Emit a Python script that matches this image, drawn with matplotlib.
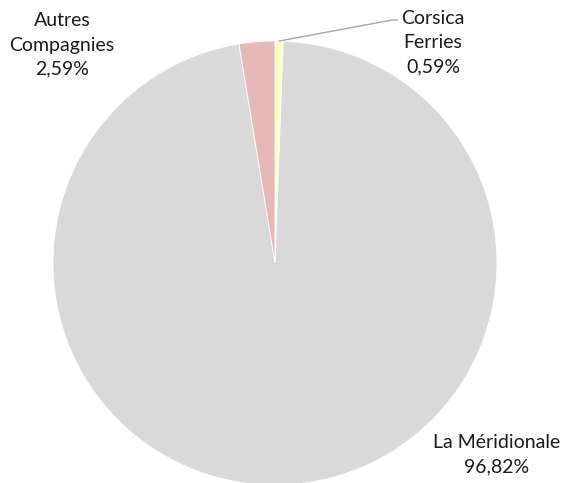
import numpy as np
import matplotlib
matplotlib.use('Agg')
import matplotlib.pyplot as plt

# données
compagnies = ['Corsica\nFerries', 'La Méridionale', 'Autres\nCompagnies']
parts = [0.59, 96.82, 2.59]
couleurs = ['#ffffc0', '#d9d9d9', '#e6b9b8']

plt.rcParams['font.family'] = ['Lato', 'DejaVu Sans']

W, H = 576, 483
fig = plt.figure(figsize=(W / 100, H / 100), dpi=100)
ax = fig.add_axes([0, 0, 1, 1])
ax.set_xlim(0, W)
ax.set_ylim(0, H)
ax.axis('off')

cx, cy, r = 275, H - 263, 222
wedges, _ = ax.pie(parts, colors=couleurs, startangle=90, counterclock=False,
                   center=(cx, cy), radius=r,
                   wedgeprops=dict(edgecolor='white', linewidth=0.6))
ax.set_xlim(0, W)
ax.set_ylim(0, H)
ax.set_aspect('equal')

def etiquette(nom, val):
    return f"{nom}\n{val:.2f}%".replace('.', ',')

style = dict(ha='center', va='center', fontsize=14, linespacing=1.52, color='#1a1a1a')
# Autres Compagnies
ax.text(62, H - 45, etiquette(compagnies[2], parts[2]), **style)
# Corsica Ferries avec ligne de rappel
ax.text(433, H - 43, etiquette(compagnies[0], parts[0]), **style)
w = wedges[0]
ang = np.deg2rad((w.theta1 + w.theta2) / 2)
x0, y0 = cx + r * np.cos(ang), cy + r * np.sin(ang)
ax.plot([x0, 392, 397], [y0, H - 20, H - 20], color='#a6a6a6', linewidth=1)
# La Méridionale
ax.text(497, H - 455, etiquette(compagnies[1], parts[1]), **style)

plt.savefig('out.png', dpi=100)
